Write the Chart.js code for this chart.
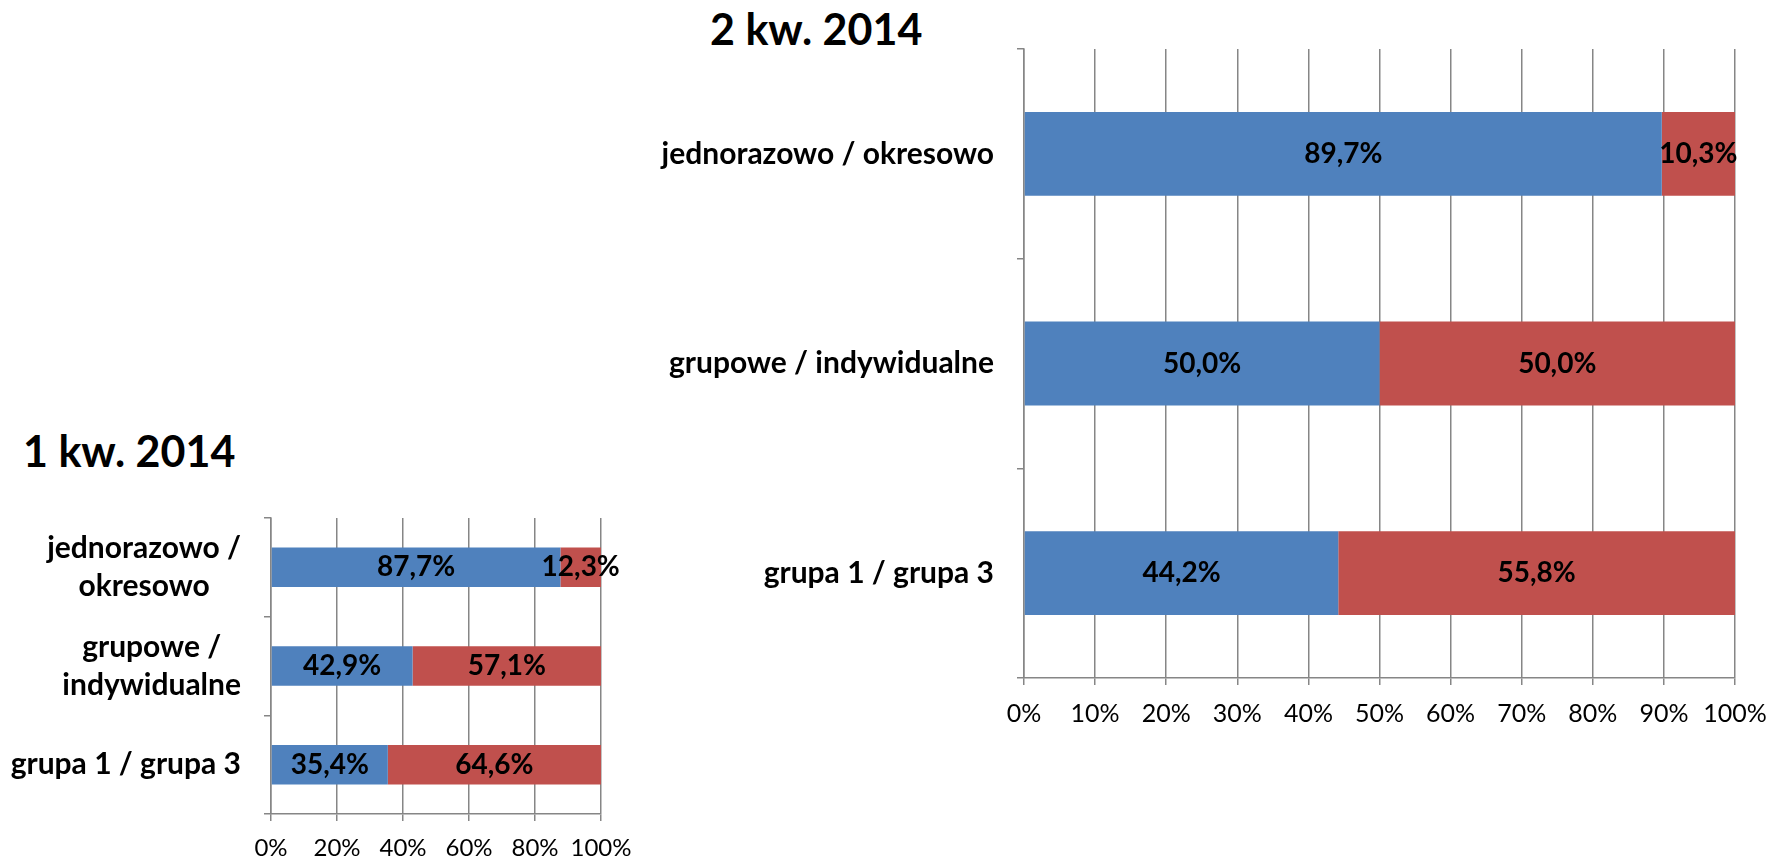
<!DOCTYPE html>
<html>
<head>
<meta charset="utf-8">
<script src="https://cdn.jsdelivr.net/npm/chart.js@4.4.0/dist/chart.umd.min.js"></script>
<style>
  body { margin: 0; width: 1778px; height: 860px; background: #fff; position: relative; overflow: hidden; font-family: Lato, sans-serif; }
  .title { position: absolute; font-weight: bold; font-size: 43px; line-height: 1; color: #000; white-space: nowrap; }
  #title1 { left: 23px; top: 429px; }
  #title2 { left: 710px; top: 7px; }
  #wrap1 { position: absolute; left: 0; top: 420px; }
  #wrap2 { position: absolute; left: 640px; top: 0; }
</style>
</head>
<body>
<div class="title" id="title1">1 kw. 2014</div>
<div class="title" id="title2">2 kw. 2014</div>
<div id="wrap1"><canvas id="chart-q1" width="640" height="440"></canvas></div>
<div id="wrap2"><canvas id="chart-q2" width="1138" height="860"></canvas></div>
<script>
// values (percent shares)
const categoriesQ1 = [["jednorazowo /", "okresowo"], ["grupowe /", "indywidualne"], "grupa 1 / grupa 3"];
const categoriesQ2 = ["jednorazowo / okresowo", "grupowe / indywidualne", "grupa 1 / grupa 3"];
const firstShareQ1 = [87.7, 42.9, 35.4];
const secondShareQ1 = [12.3, 57.1, 64.6];
const firstShareQ2 = [89.7, 50.0, 44.2];
const secondShareQ2 = [10.3, 50.0, 55.8];
const tickStepQ1 = 20;
const tickStepQ2 = 10;

const GRID = "#868686";

// value labels centred on each bar segment, "87,7%"
const valueLabels = {
  id: "valueLabels",
  afterDatasetsDraw(chart, args, opts) {
    const ctx = chart.ctx;
    ctx.save();
    ctx.font = "bold " + opts.size + "px Lato";
    ctx.fillStyle = "#000";
    ctx.textAlign = "center";
    ctx.textBaseline = "middle";
    chart.data.datasets.forEach((ds, i) => {
      chart.getDatasetMeta(i).data.forEach((bar, j) => {
        const p = bar.getCenterPoint();
        ctx.fillText(ds.data[j].toFixed(1).replace(".", ",") + "%", p.x, p.y);
      });
    });
    ctx.restore();
  },
};

// category labels: block right-aligned to the axis, lines centred inside it
const categoryLabels = {
  id: "categoryLabels",
  afterDraw(chart, args, opts) {
    const ctx = chart.ctx;
    const yScale = chart.scales.y;
    ctx.save();
    ctx.font = "bold " + opts.size + "px Lato";
    ctx.fillStyle = "#000";
    ctx.textAlign = "center";
    ctx.textBaseline = "middle";
    chart.data.labels.forEach((label, i) => {
      const lines = [].concat(label);
      const w = Math.max(...lines.map((l) => ctx.measureText(l).width));
      const cx = chart.chartArea.left - opts.gap - w / 2;
      const cy = yScale.getPixelForTick(i);
      lines.forEach((l, k) => {
        ctx.fillText(l, cx, cy + (k - (lines.length - 1) / 2) * opts.lineHeight);
      });
    });
    ctx.restore();
  },
};

function makeChart(id, labels, first, second, step, o) {
  return new Chart(document.getElementById(id), {
    type: "bar",
    data: {
      labels,
      datasets: [
        { data: first, backgroundColor: "#4F81BD" },
        { data: second, backgroundColor: "#C0504D" },
      ],
    },
    options: {
      indexAxis: "y",
      responsive: false,
      animation: false,
      categoryPercentage: 0.4,
      barPercentage: 1,
      layout: { padding: o.padding },
      plugins: {
        legend: { display: false },
        tooltip: { enabled: false },
        valueLabels: { size: 28 },
        categoryLabels: { size: 30, gap: 30, lineHeight: 38 },
      },
      scales: {
        x: {
          stacked: true,
          min: 0,
          max: 100,
          ticks: {
            stepSize: step,
            color: "#000",
            padding: o.tickPad,
            maxRotation: 0,
            minRotation: 0,
            autoSkip: false,
            font: { family: "Lato", size: o.tickSize },
            callback: (v) => v + "%",
          },
          grid: { color: GRID, lineWidth: 1.5, tickLength: 7 },
          border: { color: GRID, width: 1.5 },
          afterFit: (s) => {
            s.height = o.xHeight;
            s.paddingLeft = 0;
            s.paddingRight = 0;
          },
        },
        y: {
          stacked: true,
          ticks: { color: "transparent" },
          grid: { drawOnChartArea: false, offset: true, tickLength: 7, color: GRID, lineWidth: 1.5 },
          border: { color: GRID, width: 1.5 },
          afterFit: (s) => {
            s.width = o.yWidth;
            s.paddingTop = 0;
            s.paddingBottom = 0;
          },
        },
      },
    },
    plugins: [valueLabels, categoryLabels],
  });
}

makeChart("chart-q1", categoriesQ1, firstShareQ1, secondShareQ1, tickStepQ1, {
  padding: { left: 0, top: 98, right: 39, bottom: 0 },
  yWidth: 271, xHeight: 46, tickSize: 24, tickPad: 13,
});
makeChart("chart-q2", categoriesQ2, firstShareQ2, secondShareQ2, tickStepQ2, {
  padding: { left: 0, top: 49, right: 43, bottom: 122 },
  yWidth: 384, xHeight: 60, tickSize: 25, tickPad: 14,
});
</script>
</body>
</html>
